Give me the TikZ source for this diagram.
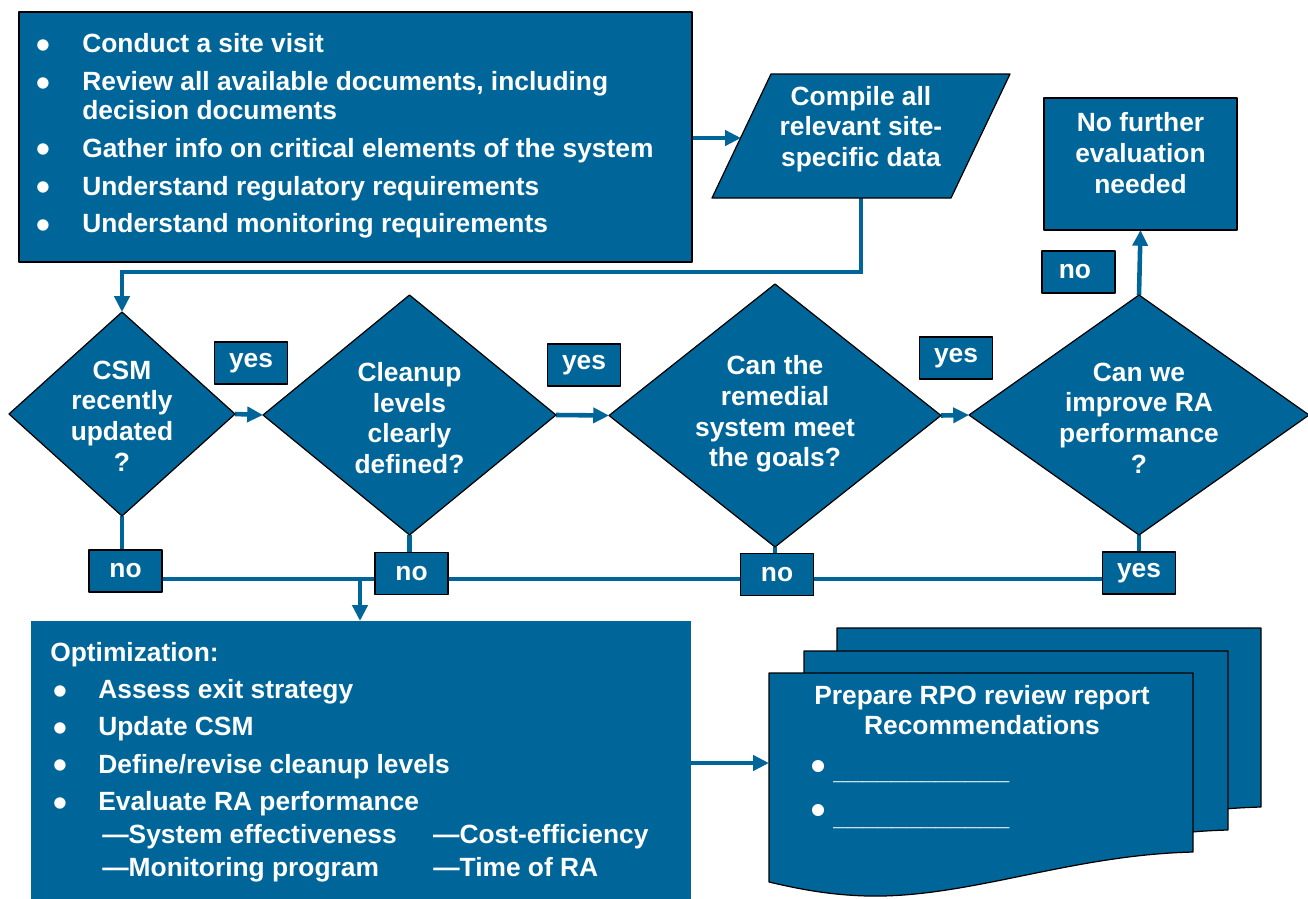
\documentclass[tikz,border=0pt]{standalone}
\usepackage{fontspec}
\setmainfont{Liberation Sans}
\usetikzlibrary{shapes.geometric,arrows.meta,backgrounds}
\definecolor{rpoblue}{RGB}{0,102,153}
\newcommand{\bul}[1][0.92cm]{\makebox[#1][l]{\raisebox{-3.2pt}{\scalebox{1.5}{\textbullet}}}}
\newcommand{\subdash}[1]{\makebox[6.62cm][l]{---#1}}

\begin{document}
\begin{tikzpicture}[x=0.02cm, y=-0.02cm, line join=round,
    box/.style={draw=black, line width=0.7pt, fill=rpoblue, inner sep=0pt, outer sep=0pt},
    dia/.style={box, diamond},
    txt/.style={text=white, font=\bfseries\fontsize{15}{17.5}\selectfont, align=center, inner sep=0pt},
    lab/.style={box, txt, minimum width=1.46cm, minimum height=0.84cm},
    conn/.style={draw=rpoblue, line width=2.6pt},
    arr/.style={conn, -{Triangle[length=9pt,width=8.5pt]}}]
\useasboundingbox (0,0) rectangle (1308,899);

% Start: site visit and data
\node[box, minimum width=13.46cm, minimum height=5cm] (site) at (355.5,137) {};
\node[txt, align=left, anchor=west, font=\bfseries\fontsize{15}{16.5}\selectfont] (sitelist) at (36,136) {%
  \bul Conduct a site visit\\[5pt]
  \bul Review all available documents, including\\
  \makebox[0.92cm]{}decision documents\\[5pt]
  \bul Gather info on critical elements of the system\\[5pt]
  \bul Understand regulatory requirements\\[5pt]
  \bul Understand monitoring requirements};

\draw[box] (712,198) -- (771,74) -- (1010,74) -- (951,198) -- cycle;
\node[txt] (comp) at (861,129) {Compile all\\relevant site-\\specific data};
\coordinate (compin) at (741,138);
\coordinate (compout) at (861,198);
\coordinate (turn) at (861,272);

% Decisions
\foreach \n/\x/\y/\w/\h in {d1/122/414/4.52/4.08, d2/409.5/415/5.86/4.8,
    d3/775/415.5/6.64/5.26, d4/1139/415/6.8/4.8}
  \node[dia, minimum width=\w cm, minimum height=\h cm] (\n) at (\x,\y) {};
\node[txt] (d1t) at (122,416) {CSM\\recently\\updated\\?};
\node[txt] (d2t) at (409.5,418) {Cleanup\\levels\\clearly\\defined?};
\node[txt] (d3t) at (775,414) {Can the\\remedial\\system meet\\the goals?};
\node[txt] (d4t) at (1139,418) {Can we\\improve RA\\performance\\?};

\node[box, minimum width=3.86cm, minimum height=2.64cm] (nof) at (1140.5,164) {};
\node[txt] (noft) at (1140.5,153) {No further\\evaluation\\needed};

% yes / no labels
\foreach \n/\x/\y/\lab in {
    yes1/251/363/yes, yes2/584/365/yes, yes3/956/358/yes, yesb/1139/573/yes,
    no1/125.5/571/no, no2/411.5/573.5/no, no3/777/574.5/no, no4/1078.5/272/no
  } \node[lab] (\n) at (\x,\y) {\lab};

% Optimization
\node[box, draw=none, minimum width=13.2cm, minimum height=5.6cm, anchor=north west] (opt) at (31,621) {};
\node[txt, align=left, anchor=west, font=\bfseries\fontsize{15}{18.7}\selectfont] (optlist) at (50,762) {%
  Optimization:\\[2.6pt]
  \hspace*{0.06cm}\bul[0.9cm]Assess exit strategy\\[2.6pt]
  \hspace*{0.06cm}\bul[0.9cm]Update CSM\\[2.6pt]
  \hspace*{0.06cm}\bul[0.9cm]Define/revise cleanup levels\\[2.6pt]
  \hspace*{0.06cm}\bul[0.9cm]Evaluate RA performance\\
  \hspace*{1.04cm}\subdash{System effectiveness}---Cost-efficiency\\
  \hspace*{1.04cm}\subdash{Monitoring program}---Time of RA};

% Report stack
\foreach \dx/\dy in {68/-45, 35/-22, 0/0}
  \draw[box, shift={(769+\dx,673+\dy)}] (0,0) -- (424,0) -- (424,179)
    .. controls (300,182) and (200,225) .. (99,223)
    .. controls (60,222) and (30,216) .. (0,209) -- cycle;
\node[txt] (rep) at (982,710) {Prepare RPO review report\\Recommendations};
\foreach \y in {766,810} \fill[white] (818,\y) circle (0.12cm);
\node[txt, anchor=base west] (u1) at (833,779) {\_\_\_\_\_\_\_\_\_\_\_\_};
\node[txt, anchor=base west] (u2) at (833,825) {\_\_\_\_\_\_\_\_\_\_\_\_};
\coordinate (repin) at (769,763);
\coordinate (j) at (360,579);

% Connectors
\begin{pgfonlayer}{background}
  \draw[arr] (site.east |- compin) -- (compin);
  \draw[arr] (compout) -- (turn) -| (d1.north);
  \draw[arr] (d1.east) -- (d2.west);
  \draw[arr] (d2.east) -- (d3.west);
  \draw[arr] (d3.east) -- (d4.west);
  \draw[arr] (d4.north) -- (nof.south);
  \draw[conn] (d1.south) -- (d1.south |- no1.north);
  \draw[conn] (d2.south) -- (d2.south |- no2.north);
  \draw[conn] (d3.south) -- (d3.south |- no3.north);
  \draw[conn] (d4.south) -- (d4.south |- yesb.north);
  \draw[conn] (no1 |- j) -- (yesb |- j);
  \draw[arr] (j) -- (j |- opt.north);
  \draw[arr] (opt.east |- repin) -- (repin);
\end{pgfonlayer}
\end{tikzpicture}
\end{document}
